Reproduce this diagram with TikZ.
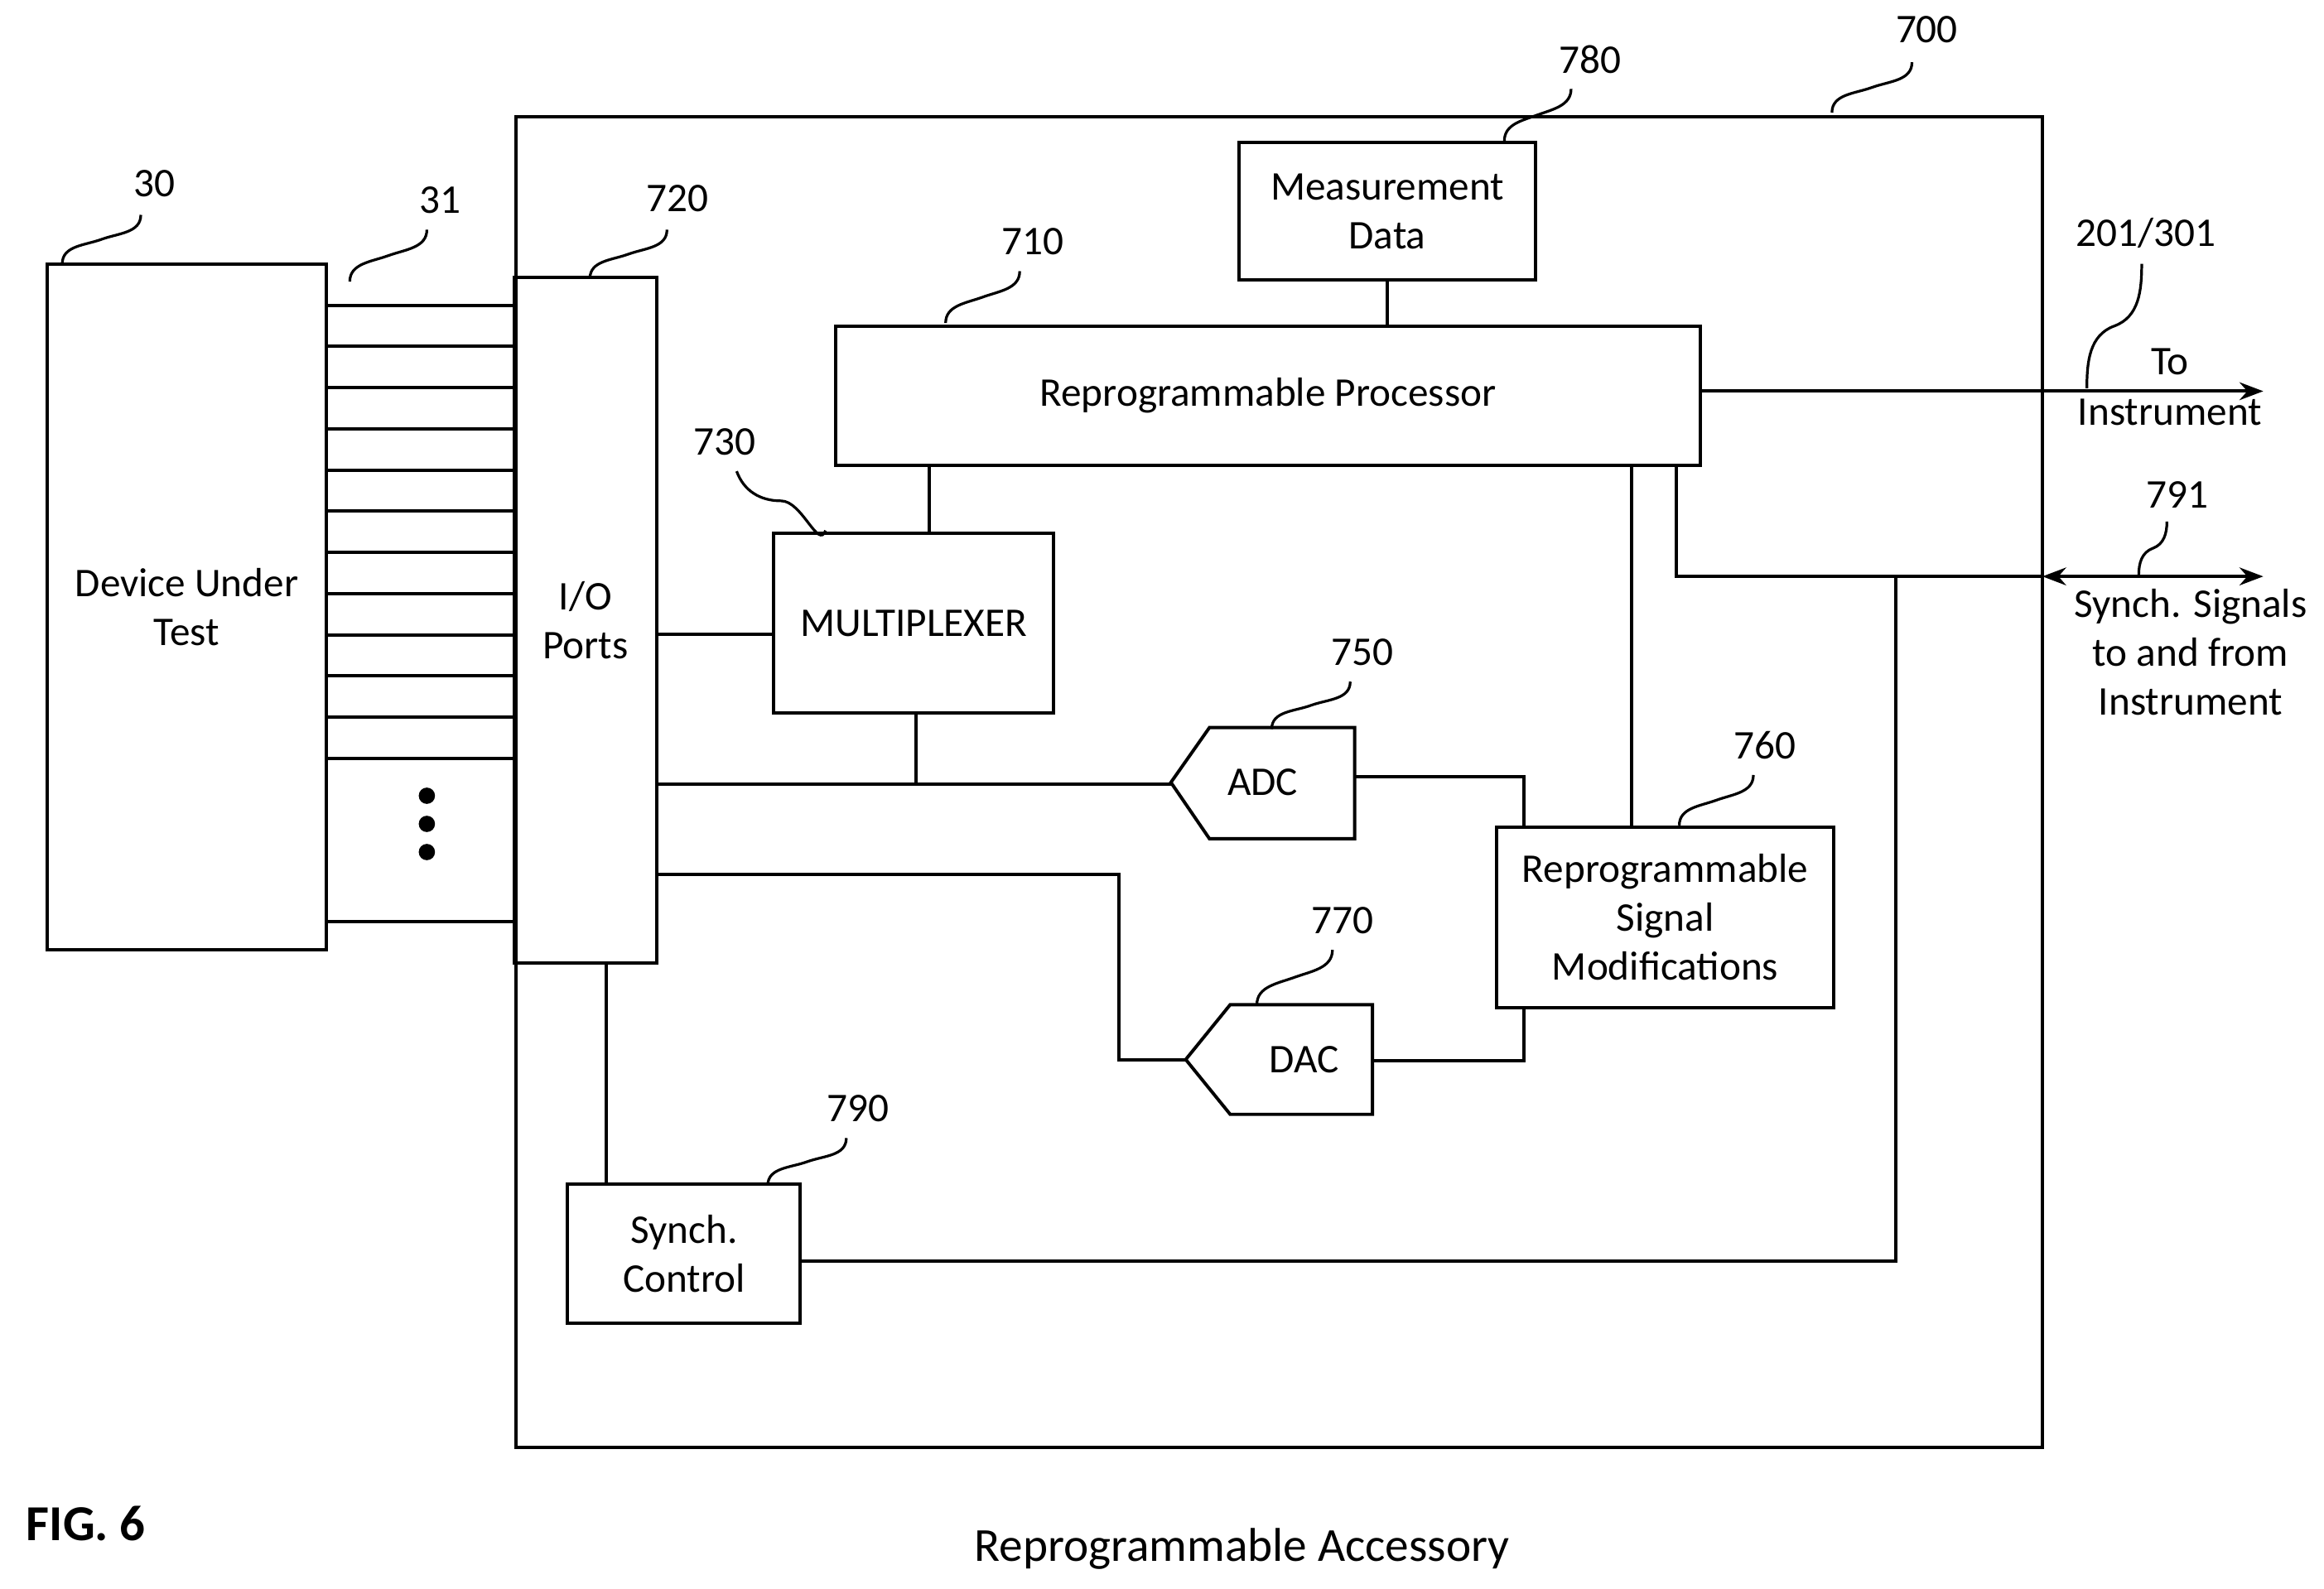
\documentclass[tikz,border=0pt]{standalone}
\usepackage{fontspec}
\setmainfont{Carlito}
\usetikzlibrary{arrows.meta}
\begin{document}
\begin{tikzpicture}[x=1pt,y=-1pt,line width=2.2pt,
  box/.style={draw,inner sep=0pt,align=center,font=\fontsize{27.5}{33}\selectfont},
  lab/.style={font=\fontsize{27.5}{33}\selectfont},
  ld/.style={line width=1.8pt}]
\useasboundingbox (0,0) rectangle (1568,1072);
\newcommand\mybox[6]{\pgfmathsetmacro\bw{#4-#2}\pgfmathsetmacro\bh{#5-#3}\pgfmathsetmacro\bx{(#2+#4)/2}\pgfmathsetmacro\by{(#3+#5)/2}%
  \node[box,minimum width=\bw pt,minimum height=\bh pt] (#1) at (\bx,\by) {#6};}
\newcommand\sq[4]{\pgfmathsetmacro\mx{(#1+#3)/2}\pgfmathsetmacro\my{(#2+#4)/2}%
  \draw[ld] (#1,#2) to[out=90,in=200] (\mx,\my) to[out=20,in=270] (#3,#4);}
\draw (348,79) rectangle (1378,977);
\mybox{dut}{32}{178}{220}{641}{Device Under\\Test}
\mybox{io}{347}{187}{443}{650}{I/O\\Ports}
\mybox{md}{836}{96}{1036}{189}{Measurement\\Data}
\mybox{rp}{564}{220}{1147}{314}{Reprogrammable Processor}
\mybox{mux}{522}{360}{711}{481}{MULTIPLEXER}
\mybox{rsm}{1010}{558}{1237}{680}{Reprogrammable\\Signal\\Modifications}
\mybox{sc}{383}{799}{540}{893}{Synch.\\Control}
\draw (790,528)--(816,491)--(914,491)--(914,566)--(816,566)--cycle;
\node[lab] (adc) at (852,528) {ADC};
\draw (800,715)--(830,678)--(926,678)--(926,752)--(830,752)--cycle;
\node[lab] (dac) at (880,715) {DAC};
\foreach \y in {206,233.8,261.6,289.4,317.2,345,372.8,400.6,428.4,456.2,484,511.8,622}
  \draw (220,\y)--(347,\y);
\foreach \y in {537,556,575} \fill (288,\y) circle (5.5);
\draw (936,189)--(936,220);
\draw (627,314)--(627,360);
\draw (443,428)--(522,428);
\draw (618,481)--(618,529);
\draw (443,529)--(790,529);
\draw (914,524)--(1028,524)--(1028,558);
\draw (1101,314)--(1101,558);
\draw (443,590)--(755,590)--(755,715)--(800,715);
\draw (926,716)--(1028,716)--(1028,680);
\draw (409,650)--(409,799);
\draw[-{Stealth[length=16pt,width=12pt]}] (1147,264)--(1527,264);
\draw (1131,314)--(1131,389)--(1378,389);
\draw[{Stealth[length=16pt,width=12pt]}-{Stealth[length=16pt,width=12pt]}] (1378,389)--(1527,389);
\draw (1279,389)--(1279,851)--(540,851);
\node[lab] at (1464,244) {To};
\node[lab] at (1464,278) {Instrument};
\node[lab,align=center] at (1478,440) {Synch. Signals\\to and from\\Instrument};
\node[font=\fontsize{34}{40}\selectfont\bfseries] at (58,1028) {FIG. 6};
\node[font=\fontsize{32}{38}\selectfont] at (838,1045) {Reprogrammable Accessory};
\node[lab] at (1300,20) {700}; \sq{1236}{76}{1290}{42}
\node[lab] at (1073,40) {780}; \sq{1015}{95}{1060}{60}
\node[lab] at (697,163) {710}; \sq{638}{218}{688}{183}
\node[lab] at (457,134) {720}; \sq{398}{188}{450}{155}
\node[lab] at (104,124) {30}; \sq{42}{178}{95}{145}
\node[lab] at (297,135) {31}; \sq{236}{190}{288}{155}
\node[lab] at (489,298) {730};
\draw[ld] (557,358) to[out=250,in=0] (527,338) to[out=180,in=290] (497,318);
\node[lab] at (919,440) {750}; \sq{858}{492}{911}{460}
\node[lab] at (1191,503) {760}; \sq{1133}{557}{1183}{523}
\node[lab] at (906,621) {770}; \sq{848}{678}{899}{641}
\node[lab] at (579,748) {790}; \sq{518}{800}{571}{768}
\node[lab] at (1469,334) {791}; \sq{1443}{388}{1462}{352}
\node[lab] at (1448,157) {201/301}; \sq{1408}{262}{1445}{178}
\end{tikzpicture}
\end{document}
